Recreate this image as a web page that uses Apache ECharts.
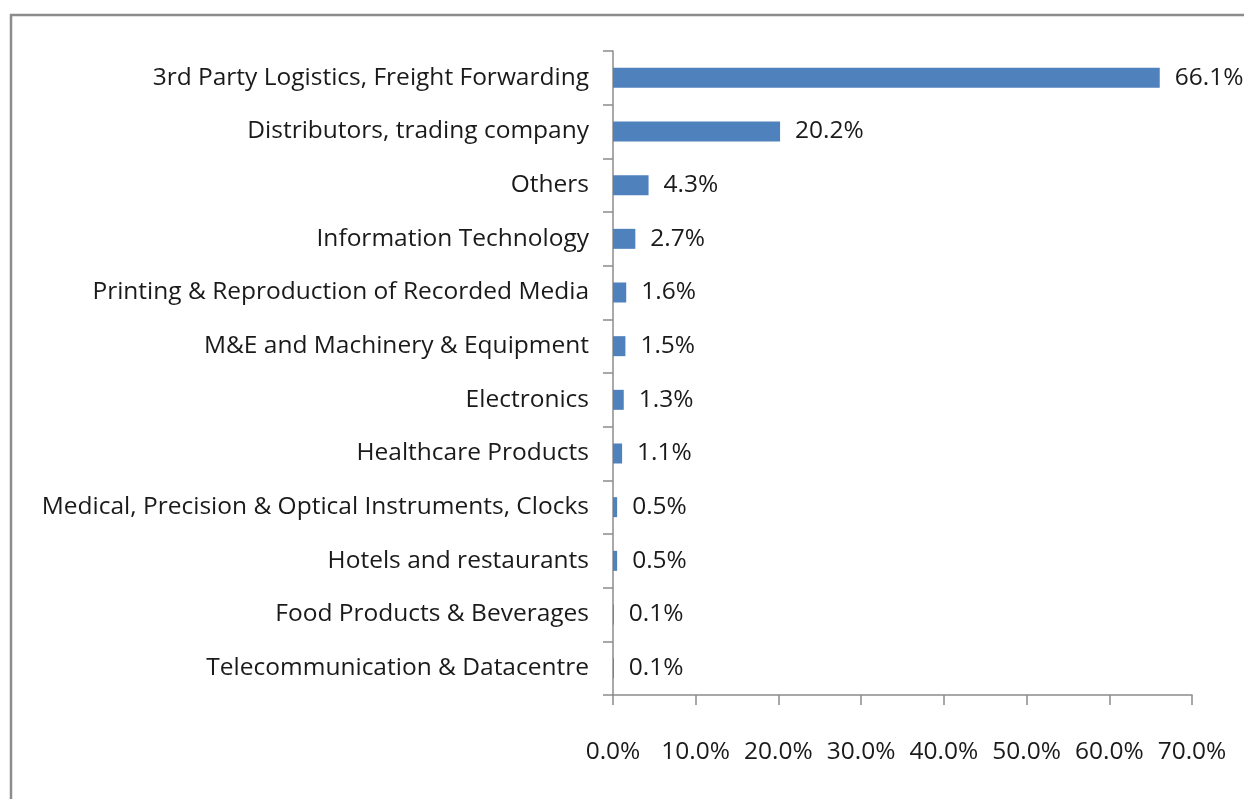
<!DOCTYPE html>
<html lang="en">
  <head>
    <meta charset="UTF-8" />
    <script src="https://cdn.jsdelivr.net/npm/echarts@6/dist/echarts.min.js"></script>
    <style>
      html,
      body {
        margin: 0;
        overflow: hidden;
        background: #fff;
      }
      #viewport {
        position: absolute;
        left: 0px;
        top: 0px;
        width: 1244px;
        height: 799px;
      }
    </style>
  </head>
  <body>
    <div id="viewport"></div>
    <script>
      // sectors, top to bottom
      var categories = [
        '3rd Party Logistics, Freight Forwarding',
        'Distributors, trading company',
        'Others',
        'Information Technology',
        'Printing & Reproduction of Recorded Media',
        'M&E and Machinery & Equipment',
        'Electronics',
        'Healthcare Products',
        'Medical, Precision & Optical Instruments, Clocks',
        'Hotels and restaurants',
        'Food Products & Beverages',
        'Telecommunication & Datacentre'
      ];
      var shares = [66.1, 20.2, 4.3, 2.7, 1.6, 1.5, 1.3, 1.1, 0.5, 0.5, 0.1, 0.1];
      var axisTicks = [0, 10, 20, 30, 40, 50, 60, 70];

      var font = '"Open Sans", sans-serif';
      var myChart = echarts.init(document.getElementById('viewport'));

      var option = {
        animation: false,
        backgroundColor: '#fff',
        graphic: [
          {
            type: 'polyline',
            shape: { points: [[11, 820], [11, 15], [1260, 15]] },
            style: { stroke: '#8c8c8c', lineWidth: 2.5, fill: null }
          }
        ],
        grid: { left: 613, right: 52, top: 51, bottom: 104 },
        xAxis: {
          type: 'value',
          min: axisTicks[0],
          max: axisTicks[axisTicks.length - 1],
          interval: 10,
          axisLine: { show: true, lineStyle: { color: '#8c8c8c', width: 1.5 } },
          axisTick: { show: true, length: 10, lineStyle: { color: '#8c8c8c', width: 1.5 } },
          splitLine: { show: false },
          axisLabel: {
            margin: 45,
            color: '#1a1a1a',
            fontFamily: font,
            fontSize: 24.5,
            formatter: function (v) {
              return v.toFixed(1) + '%';
            }
          }
        },
        yAxis: {
          type: 'category',
          inverse: true,
          data: categories,
          axisLine: { show: true, lineStyle: { color: '#8c8c8c', width: 1.5 } },
          axisTick: { show: true, length: 10, lineStyle: { color: '#8c8c8c', width: 1.5 } },
          axisLabel: {
            margin: 24,
            color: '#1a1a1a',
            fontFamily: font,
            fontSize: 24.5
          }
        },
        series: [
          {
            type: 'bar',
            data: shares,
            barWidth: 20,
            itemStyle: { color: '#4f81bd' },
            label: {
              show: true,
              position: 'right',
              distance: 15,
              color: '#1a1a1a',
              fontFamily: font,
              fontSize: 24.5,
              formatter: function (p) {
                return p.value.toFixed(1) + '%';
              }
            }
          }
        ]
      };
      myChart.setOption(option);
    </script>
  </body>
</html>
